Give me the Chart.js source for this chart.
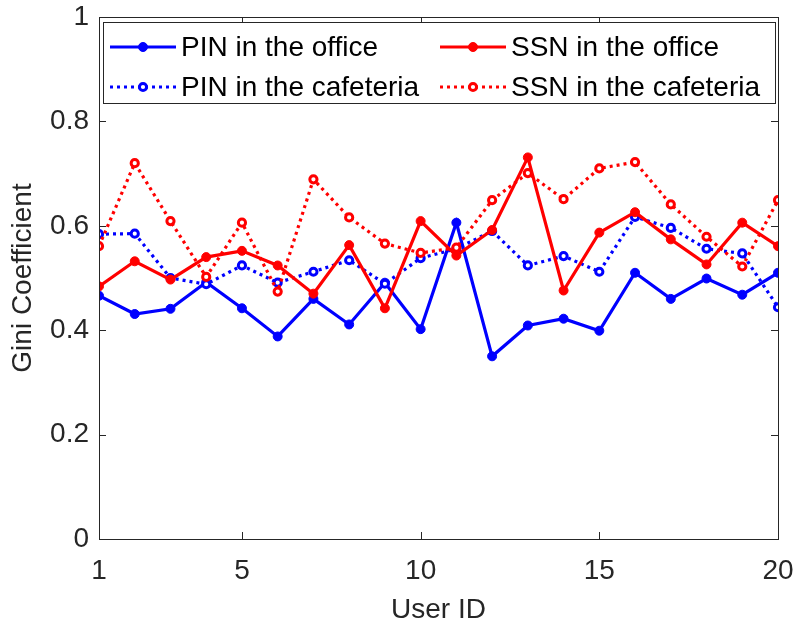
<!DOCTYPE html>
<html>
<head>
<meta charset="utf-8">
<script src="https://cdn.jsdelivr.net/npm/chart.js@4.4.1/dist/chart.umd.min.js"></script>
<style>
  html, body { margin: 0; padding: 0; background: #fff; }
  #wrap { width: 797px; height: 628px; position: relative; }
</style>
</head>
<body>
<div id="wrap"><canvas id="giniChart"></canvas></div>
<script>
// user ids on the x axis
const userIds = [1, 2, 3, 4, 5, 6, 7, 8, 9, 10, 11, 12, 13, 14, 15, 16, 17, 18, 19, 20];
const xTicks = [1, 5, 10, 15, 20];
const yTicks = [0, 0.2, 0.4, 0.6, 0.8, 1];

// gini coefficient per user
const pinOffice = [0.466, 0.431, 0.441, 0.492, 0.442, 0.388, 0.460, 0.411, 0.491, 0.402,
                   0.606, 0.350, 0.409, 0.422, 0.399, 0.510, 0.460, 0.499, 0.468, 0.510];
const pinCafe   = [0.584, 0.585, 0.500, 0.488, 0.524, 0.491, 0.512, 0.534, 0.489, 0.538,
                   0.556, 0.590, 0.524, 0.542, 0.512, 0.617, 0.596, 0.556, 0.547, 0.444];
const ssnOffice = [0.484, 0.532, 0.497, 0.540, 0.552, 0.524, 0.470, 0.563, 0.442, 0.609,
                   0.543, 0.592, 0.731, 0.476, 0.587, 0.626, 0.574, 0.526, 0.606, 0.561];
const ssnCafe   = [0.561, 0.720, 0.609, 0.502, 0.606, 0.474, 0.689, 0.616, 0.566, 0.548,
                   0.558, 0.649, 0.701, 0.651, 0.710, 0.722, 0.641, 0.579, 0.522, 0.649];

const seriesLabels = ['PIN in the office', 'PIN in the cafeteria', 'SSN in the office', 'SSN in the cafeteria'];

const BLUE = '#0000ff';
const RED = '#ff0000';
const AXIS = '#262626';
const FONT = '"Liberation Sans", Arial, Helvetica, sans-serif';
const DOTS = [3, 4];

function toPoints(vals) {
    return vals.map((v, i) => ({ x: userIds[i], y: v }));
}

function solidSet(label, vals, color, order) {
    return {
        label, data: toPoints(vals), order,
        borderColor: color, backgroundColor: color, borderWidth: 3.2,
        pointRadius: 4.5, pointBorderWidth: 1, pointBackgroundColor: color, pointBorderColor: color,
        tension: 0, fill: false
    };
}

function dottedSet(label, vals, color, order) {
    return {
        label, data: toPoints(vals), order,
        borderColor: color, backgroundColor: color, borderWidth: 3.2, borderDash: DOTS,
        pointRadius: 3.6, pointBorderWidth: 3, pointBackgroundColor: '#fff', pointBorderColor: color,
        tension: 0, fill: false
    };
}

// axes box, inward ticks on all four sides, and the boxed legend
const matlabFrame = {
    id: 'matlabFrame',
    afterDatasetsDraw(chart) {
        const { ctx, chartArea: a, scales: { x, y } } = chart;
        const tl = 7;
        ctx.save();
        ctx.strokeStyle = AXIS;
        ctx.lineWidth = 1;
        ctx.setLineDash([]);
        ctx.beginPath();
        xTicks.forEach(t => {
            const px = Math.round(x.getPixelForValue(t)) + 0.5;
            ctx.moveTo(px, a.bottom); ctx.lineTo(px, a.bottom - tl);
            ctx.moveTo(px, a.top); ctx.lineTo(px, a.top + tl);
        });
        yTicks.forEach(t => {
            const py = Math.round(y.getPixelForValue(t)) + 0.5;
            ctx.moveTo(a.left, py); ctx.lineTo(a.left + tl, py);
            ctx.moveTo(a.right, py); ctx.lineTo(a.right - tl, py);
        });
        ctx.stroke();
        ctx.strokeRect(Math.round(a.left) + 0.5, Math.round(a.top) + 0.5,
                       Math.round(a.right - a.left), Math.round(a.bottom - a.top));

        // legend
        const box = { l: 103.5, t: 22.5, r: 775.5, b: 103.5 };
        ctx.fillStyle = '#fff';
        ctx.fillRect(box.l, box.t, box.r - box.l, box.b - box.t);
        ctx.strokeRect(box.l, box.t, box.r - box.l, box.b - box.t);

        const cols = [110, 440];
        const rows = [47, 87];
        const sets = chart.data.datasets;
        ctx.font = '28px ' + FONT;
        ctx.textBaseline = 'middle';
        ctx.textAlign = 'left';
        sets.forEach((ds, k) => {
            const lx = cols[Math.floor(k / 2)];
            const ly = rows[k % 2];
            ctx.strokeStyle = ds.borderColor;
            ctx.lineWidth = ds.borderWidth;
            ctx.setLineDash(ds.borderDash || []);
            ctx.beginPath();
            ctx.moveTo(lx, ly); ctx.lineTo(lx + 66, ly);
            ctx.stroke();
            ctx.setLineDash([]);
            ctx.beginPath();
            ctx.arc(lx + 33, ly, ds.pointRadius, 0, Math.PI * 2);
            ctx.fillStyle = ds.pointBackgroundColor;
            ctx.fill();
            ctx.lineWidth = ds.pointBorderWidth;
            ctx.strokeStyle = ds.pointBorderColor;
            ctx.stroke();
            ctx.fillStyle = '#000';
            ctx.fillText(ds.label, lx + 71, ly + 1);
        });
        ctx.restore();
    }
};

const ctx = document.getElementById('giniChart').getContext('2d');
new Chart(ctx, {
    type: 'line',
    data: {
        datasets: [
            solidSet(seriesLabels[0], pinOffice, BLUE, 3),
            dottedSet(seriesLabels[1], pinCafe, BLUE, 2),
            solidSet(seriesLabels[2], ssnOffice, RED, 1),
            dottedSet(seriesLabels[3], ssnCafe, RED, 0)
        ]
    },
    options: {
        responsive: true, maintainAspectRatio: false, animation: false,
        layout: { padding: { left: 0, top: 17, right: 19, bottom: 0 } },
        plugins: { legend: { display: false }, tooltip: { enabled: false } },
        scales: {
            x: {
                type: 'linear', min: 1, max: 20,
                afterBuildTicks: s => { s.ticks = xTicks.map(v => ({ value: v })); },
                afterFit: s => { s.height = 89; s.paddingLeft = 0; s.paddingRight = 0; },
                grid: { display: false, drawTicks: false },
                border: { display: false },
                ticks: { color: AXIS, font: { family: FONT, size: 28 }, padding: 15, maxRotation: 0 },
                title: { display: true, text: 'User ID', color: AXIS,
                         font: { family: FONT, size: 28 }, padding: { top: 0, bottom: 1 } }
            },
            y: {
                min: 0, max: 1,
                afterBuildTicks: s => { s.ticks = yTicks.map(v => ({ value: v })); },
                afterFit: s => { s.width = 99; s.paddingTop = 0; s.paddingBottom = 0; },
                grid: { display: false, drawTicks: false },
                border: { display: false },
                ticks: { color: AXIS, font: { family: FONT, size: 28 }, padding: 10,
                         callback: v => (v === 0 || v === 1) ? String(v) : v.toFixed(1) },
                title: { display: true, text: 'Gini Coefficient', color: AXIS,
                         font: { family: FONT, size: 28 }, padding: { top: 6, bottom: 0 } }
            }
        }
    },
    plugins: [matlabFrame]
});
</script>
</body>
</html>
